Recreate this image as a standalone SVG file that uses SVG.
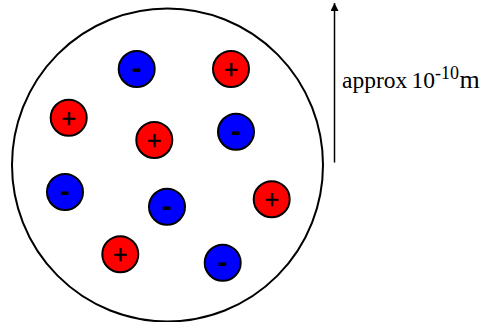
<svg xmlns="http://www.w3.org/2000/svg" width="487" height="322" viewBox="0 0 487 322">
<style>
.atom{fill:none;stroke:#000;stroke-width:2}
.pos{fill:#ff0000;stroke:#000;stroke-width:2}
.neg{fill:#0000ff;stroke:#000;stroke-width:2}
.plus{font-family:"Liberation Sans",Arial,sans-serif;font-size:25px;text-anchor:middle;fill:#000;stroke:#000;stroke-width:0.4}
.minus{font-family:"Liberation Sans",Arial,sans-serif;font-size:30px;font-weight:bold;text-anchor:middle;fill:#000}
.label{font-family:"Liberation Serif","Times New Roman",serif;font-size:23.5px;fill:#000}
.conn{stroke:#000;stroke-width:1.5;fill:none}
</style>
<defs>
<marker id="ah" viewBox="0 0 10 10" refX="10" refY="5" markerWidth="8" markerHeight="8" markerUnits="userSpaceOnUse" orient="auto">
<path d="M0,0 L10,5 L0,10 z" fill="#000"/>
</marker>
</defs>
<g id="atom"><ellipse class="atom" cx="167.5" cy="165" rx="155.5" ry="156.5"/></g>
<g id="n1"><circle class="neg" cx="136.7" cy="69" r="18"/><text class="minus" x="136.7" y="78">-</text></g>
<g id="p1"><circle class="pos" cx="231" cy="69" r="18"/><text class="plus" x="231" y="77.8">+</text></g>
<g id="p2"><circle class="pos" cx="68.7" cy="117.7" r="18"/><text class="plus" x="68.7" y="126.5">+</text></g>
<g id="p3"><circle class="pos" cx="154.3" cy="140" r="18"/><text class="plus" x="154.3" y="148.8">+</text></g>
<g id="n2"><circle class="neg" cx="236" cy="131.7" r="18"/><text class="minus" x="236" y="140.7">-</text></g>
<g id="n3"><circle class="neg" cx="65" cy="192" r="18"/><text class="minus" x="65" y="201">-</text></g>
<g id="n4"><circle class="neg" cx="167" cy="206.7" r="18"/><text class="minus" x="167" y="215.7">-</text></g>
<g id="p4"><circle class="pos" cx="271.7" cy="199.3" r="18"/><text class="plus" x="271.7" y="208.1">+</text></g>
<g id="p5"><circle class="pos" cx="120.3" cy="254.3" r="18"/><text class="plus" x="120.3" y="263.1">+</text></g>
<g id="n5"><circle class="neg" cx="222.7" cy="262.7" r="18"/><text class="minus" x="222.7" y="271.7">-</text></g>
<g id="connectors"><line class="conn" x1="334.5" y1="162.5" x2="334.5" y2="3" marker-end="url(#ah)"/></g>
<g id="scale-label"><text class="label" x="342" y="88">approx <tspan x="411.5">10</tspan><tspan x="435" font-size="18" dy="-9">-10</tspan><tspan x="459.5" dy="9" font-size="26">m</tspan></text></g>
</svg>
